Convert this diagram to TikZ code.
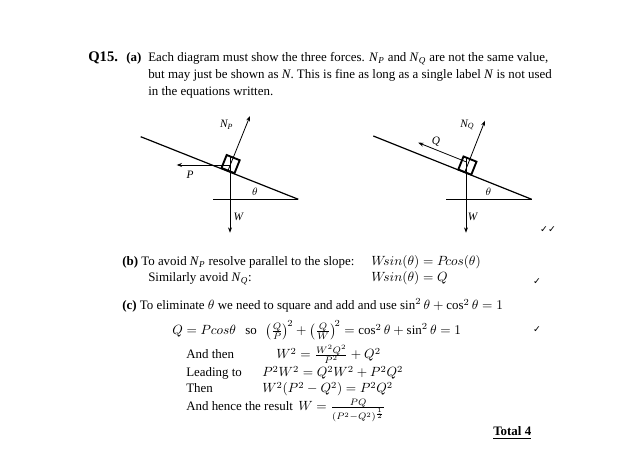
\documentclass[tikz,border=0pt]{standalone}
\usepackage{amsmath}
\usepackage{fontspec}
\setmainfont{Liberation Serif}
\newfontfamily\symfont{DejaVu Sans}
\usetikzlibrary{arrows.meta,calc}
\begin{document}
\begin{tikzpicture}[x=0.75pt,y=-0.75pt,
  txt/.style={anchor=base west,inner sep=0pt,font=\fontsize{9.7}{11.6}\selectfont},
  lbl/.style={inner sep=0pt,font=\fontsize{8.5}{9.5}\selectfont\itshape},
  tick/.style={inner sep=0pt,font=\symfont\fontsize{7}{8}\selectfont},
  force/.style={-{Stealth[length=4pt,width=3pt]},line width=0.6pt},
  slope/.style={line width=0.9pt},
  blk/.style={line width=1.4pt}]
\useasboundingbox (0,0) rectangle (626,466);

% ---------- text part (a)
\node[txt,font=\bfseries\fontsize{11}{13}\selectfont] (q15) at (88,62) {Q15.};
\node[txt] (a) at (126,62) {\textbf{(a)}};
\node[txt] (l1) at (148,62) {Each diagram must show the three forces. \textit{N}\textsubscript{\textit{P}} and \textit{N}\textsubscript{\textit{Q}} are not the same value,};
\node[txt] (l2) at (148,79) {but may just be shown as \textit{N}. This is fine as long as a single label \textit{N} is not used};
\node[txt] (l3) at (148,96) {in the equations written.};

% ---------- diagram 1
\coordinate (s1a) at (140.7,136.7);
\coordinate (s1b) at (298.3,199.3);
\coordinate (h1a) at (213.3,199.3);
\draw[slope] (s1a) -- (s1b);
\draw[slope] (h1a) -- (s1b);
\coordinate (b1bl) at (221.5,168.0);
\coordinate (b1br) at (234.5,173.2);
\coordinate (b1tr) at (239.7,160.2);
\coordinate (b1tl) at (226.7,155.0);
\draw[blk] (b1bl) -- (b1br) -- (b1tr) -- (b1tl) -- cycle;
\coordinate (n1s) at (228.0,170.6);
\coordinate (n1e) at (250,116);
\coordinate (w1s) at (230,156.3);
\coordinate (w1e) at (230,232.7);
\coordinate (p1s) at (230,165);
\coordinate (p1e) at (176.7,165);
\draw[force] (n1s) -- (n1e);
\draw[force] (w1s) -- (w1e);
\draw[force] (p1s) -- (p1e);
\node[lbl] (np) at (226.7,125) {N\textsubscript{P}};
\node[lbl] (pl) at (190,175) {P};
\node[lbl] (t1) at (255,191.7) {$\theta$};
\node[lbl] (w1l) at (238.3,217.3) {W};

% ---------- diagram 2
\coordinate (s2a) at (373.3,136);
\coordinate (s2b) at (531.7,199.3);
\coordinate (h2a) at (446,199.3);
\draw[slope] (s2a) -- (s2b);
\draw[slope] (h2a) -- (s2b);
\coordinate (b2bl) at (458.3,169.5);
\coordinate (b2br) at (471.3,174.7);
\coordinate (b2tr) at (476.5,161.7);
\coordinate (b2tl) at (463.5,156.5);
\draw[blk] (b2bl) -- (b2br) -- (b2tr) -- (b2tl) -- cycle;
\coordinate (n2s) at (464.8,172.1);
\coordinate (n2e) at (485,120.7);
\coordinate (w2s) at (466,157.5);
\coordinate (w2e) at (466,232.7);
\coordinate (q2s) at (466,161.8);
\coordinate (q2e) at (418.3,142.7);
\draw[force] (n2s) -- (n2e);
\draw[force] (w2s) -- (w2e);
\draw[force] (q2s) -- (q2e);
\node[lbl] (nq) at (467.3,125) {N\textsubscript{Q}};
\node[lbl] (ql) at (436,141.7) {Q};
\node[lbl] (t2) at (488.3,191.7) {$\theta$};
\node[lbl] (w2l) at (472.7,217.3) {W};
\node[tick] (tk1) at (548,230) {✓✓};

% ---------- part (b)
\node[txt] (b1) at (122,266) {\textbf{(b)} To avoid \textit{N}\textsubscript{\textit{P}} resolve parallel to the slope:};
\node[txt] (b1e) at (371,266) {$W\!sin(\theta) = P\!cos(\theta)$};
\node[txt] (b2) at (148,282) {Similarly avoid \textit{N}\textsubscript{\textit{Q}}:};
\node[txt] (b2e) at (371,282) {$W\!sin(\theta) = Q$};
\node[tick] (tk2) at (537,282) {✓};

% ---------- part (c)
\node[txt] (c1) at (122,310) {\textbf{(c)} To eliminate $\theta$ we need to square and add and use $\sin^2\theta + \cos^2\theta = 1$};
\node[txt] (c2a) at (172,335) {$Q = P cos\theta$};
\node[txt] (c2b) at (245,335) {so};
\node[txt] (c2c) at (265,335) {$\bigl(\tfrac{Q}{P}\bigr)^{\!2} + \bigl(\tfrac{Q}{W}\bigr)^{\!2} = \cos^2\theta + \sin^2\theta = 1$};
\node[tick] (tk3) at (537,330) {✓};
\node[txt] (c3a) at (186,359) {And then};
\node[txt] (c3b) at (276,359) {$W^2 = \frac{W^2Q^2}{P^2} + Q^2$};
\node[txt] (c4a) at (186,377) {Leading to};
\node[txt] (c4b) at (262,377) {$P^2W^2 = Q^2W^2 + P^2Q^2$};
\node[txt] (c5a) at (186,393) {Then};
\node[txt] (c5b) at (262,393) {$W^2(P^2 - Q^2) = P^2Q^2$};
\node[txt] (c6a) at (186,411) {And hence the result};
\node[txt] (c6b) at (298,411) {$W = \frac{PQ}{(P^2-Q^2)^{\frac{1}{2}}}$};
\node[txt] (tot) at (493,436) {\textbf{\underline{Total 4}}};
\end{tikzpicture}
\end{document}
